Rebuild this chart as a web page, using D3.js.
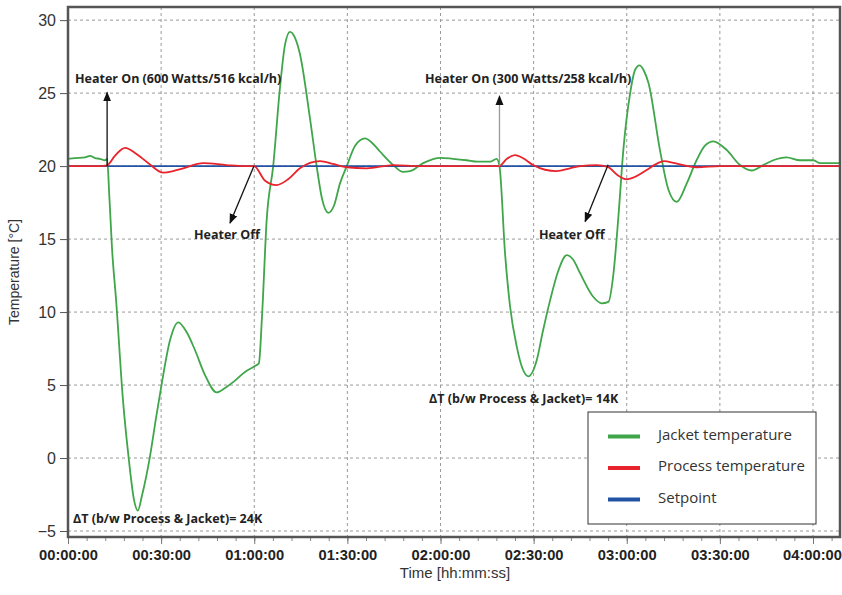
<!DOCTYPE html>
<html>
<head>
<meta charset="utf-8">
<script src="https://cdn.jsdelivr.net/npm/d3@7"></script>
<style>
    body { margin: 0; background: #fff; }
    svg { display: block; }
    .grid line { stroke: #9a9a9a; stroke-dasharray: 3,3; stroke-width: 1; }
    .ann { font-family: "Open Sans", sans-serif; font-weight: bold; font-size: 12.5px; fill: #222; }
</style>
</head>
<body>
<div id="chart"></div>
<script>
// time in minutes, temperatures in degC
const jacketTime = [0, 2.3, 5.5, 7.1, 8.7, 10.3, 11.9, 12.6, 13.3, 14.2, 15.5, 17.7, 19.6, 21.3, 22.5, 23.8, 26.4, 28.4, 30.2,
    32.9, 35.5, 38.3, 40.9, 44.1, 47.9, 50.6, 53.8, 57.0, 60.2, 61.5, 62.5, 64.0, 66.1, 68.3, 69.9, 71.5, 73.1, 74.7, 78.0,
    80.1, 81.8, 83.9, 85.7, 87.6, 89.8, 92.5, 95.7, 97.9, 100.5, 104.8, 107.9, 110.2, 114.4, 120, 124, 128.4, 132, 136, 138.1,
    139, 140.8, 142.4, 144.6, 146.3, 148.3, 151, 153, 155.3, 157.9, 160.7, 162.7, 165, 169.2, 171.9, 174.1, 175.7, 177.3, 178.9, 181.1,
    182.7, 184.1, 185.6, 187, 190.7, 193.4, 196.1, 199.3, 202.5, 205.2, 207.9, 212.2, 216.5, 220.3, 224, 227.2, 231.5, 235.8, 240.1, 242.3, 248.7];
const jacketTemp = [20.5, 20.55, 20.6, 20.7, 20.55, 20.5, 20.4, 20.5, 18.0, 14.3, 10.8, 4.0, -0.1, -2.9, -3.6, -2.6, 0.1, 2.8, 5.1,
    8.1, 9.3, 8.6, 7.4, 5.7, 4.5, 4.8, 5.3, 5.9, 6.3, 6.5, 9.7, 16.3, 20, 25.4, 28.3, 29.2, 28.8, 27.7, 23.2,
    20, 17.8, 16.8, 17.3, 18.8, 20, 21.4, 21.9, 21.6, 21.0, 20.07, 19.6, 19.65, 20.2, 20.57, 20.5, 20.4, 20.3, 20.3, 20.5,
    20, 14, 10.4, 7.6, 6.2, 5.6, 6.7, 8.7, 10.8, 12.8, 13.9, 13.6, 12.65, 11.05, 10.6, 10.7, 12.6, 16.5, 21.1, 25,
    26.6, 26.9, 26.5, 25.7, 21.1, 18.4, 17.55, 18.8, 20.4, 21.4, 21.7, 21.1, 20.07, 19.7, 20.07, 20.4, 20.6, 20.4, 20.4, 20.2, 20.2];

const processTime = [0, 10.3, 12.6, 15.1, 18.4, 21.6, 25.9, 30.7, 33.8, 37.1, 43.6, 51.1, 57, 59.9, 63.5, 67.2, 70.9, 74.7, 81.2, 85.4,
    89.8, 96.2, 104.8, 113.4, 138.9, 141.4, 144.0, 146.9, 149.8, 153.7, 157.4, 161.7, 165, 170.3, 173.9, 176.9, 180, 183, 186.4, 189.1,
    192, 195.5, 202.5, 210, 248.7];
const processTemp = [20, 20, 20.05, 20.7, 21.25, 20.9, 20.2, 19.55, 19.65, 19.85, 20.2, 20.07, 20, 20, 19.0, 18.7, 19.1, 19.85, 20.34, 20.15,
    19.92, 19.85, 20.07, 20.0, 20, 20.5, 20.75, 20.5, 20.07, 19.75, 19.66, 19.85, 20, 20.07, 19.95, 19.4, 19.1, 19.3, 19.73, 20.1,
    20.34, 20.2, 19.92, 20, 20];

const setpointTime = [0, 248.7];
const setpointTemp = [20, 20];

const xTicks = [0, 30, 60, 90, 120, 150, 180, 210, 240];
const yTicks = [-5, 0, 5, 10, 15, 20, 25, 30];

const seriesNames = ['Jacket temperature', 'Process temperature', 'Setpoint'];
const seriesColors = ['#3fa64a', '#e8232b', '#2152a3'];

// annotations in data coordinates (minutes, degC)
const labels = [
    { text: 'Heater On (600 Watts/516 kcal/h)', t: 2.25, v: 25.7 },
    { text: 'Heater Off', t: 40.6, v: 15.0 },
    { text: 'Heater On (300 Watts/258 kcal/h)', t: 115, v: 25.7 },
    { text: 'Heater Off', t: 151.7, v: 15.0 },
    { text: '\u0394T (b/w Process & Jacket)= 24K', t: 1.6, v: -4.45 },
    { text: '\u0394T (b/w Process & Jacket)= 14K', t: 116.3, v: 3.77 }
];
const arrows = [
    { t0: 12.6, v0: 20, t1: 12.6, v1: 25.05, color: '#111' },
    { t0: 59.9, v0: 20, t1: 52.2, v1: 16.1, color: '#111' },
    { t0: 139, v0: 20, t1: 139, v1: 24.8, color: '#999' },
    { t0: 174, v0: 20.1, t1: 166.6, v1: 16.2, color: '#111' }
];

const width = 842, height = 595;
const mLeft = 68, mRight = 840, mTop = 7, mBottom = 537;

const svg = d3.select('#chart').append('svg')
    .attr('width', width)
    .attr('height', height);

const x = d3.scaleLinear().domain([0, 248.7]).range([mLeft, mRight]);
const y = d3.scaleLinear().domain([-5.41, 30.9]).range([mBottom, mTop]);

const pad = n => String(n).padStart(2, '0');
const fmtTime = m => pad(Math.floor(m / 60)) + ':' + pad(m % 60) + ':00';

// grid
svg.append('g').attr('class', 'grid')
    .selectAll('line').data(xTicks.filter(d => d > 0)).join('line')
    .attr('x1', d => x(d)).attr('x2', d => x(d))
    .attr('y1', mTop).attr('y2', mBottom);
svg.append('g').attr('class', 'grid')
    .selectAll('line').data(yTicks).join('line')
    .attr('x1', mLeft).attr('x2', mRight)
    .attr('y1', d => y(d)).attr('y2', d => y(d));

// axes
const xMinor = d3.range(0, 249, 6);
svg.append('g')
    .attr('transform', `translate(0,${mBottom})`)
    .call(d3.axisBottom(x).tickValues(xMinor).tickSize(4).tickFormat(''))
    .call(g => g.select('.domain').remove())
    .call(g => g.selectAll('line').attr('stroke', '#888'));

const xAxis = svg.append('g')
    .attr('transform', `translate(0,${mBottom})`)
    .call(d3.axisBottom(x).tickValues(xTicks).tickSize(7).tickPadding(6).tickFormat(fmtTime));
xAxis.select('.domain').remove();
xAxis.selectAll('line').attr('stroke', '#777');
xAxis.selectAll('text')
    .attr('font-family', '"Liberation Sans", Arial, sans-serif')
    .attr('font-size', 14.7)
    .attr('font-weight', 'bold')
    .attr('fill', '#222')
    .attr('dx', d => d === 240 ? -1 : 0);

const yAxis = svg.append('g')
    .attr('transform', `translate(${mLeft},0)`)
    .call(d3.axisLeft(y).tickValues(yTicks).tickSize(8).tickPadding(4));
yAxis.select('.domain').remove();
yAxis.selectAll('line').attr('stroke', '#555');
yAxis.selectAll('text')
    .attr('font-family', '"Liberation Sans", Arial, sans-serif')
    .attr('font-size', 16)
    .attr('fill', '#333');

// lines
const line = d3.line()
    .x(d => x(d[0]))
    .y(d => y(d[1]))
    .curve(d3.curveMonotoneX);

const series = [
    d3.zip(jacketTime, jacketTemp),
    d3.zip(setpointTime, setpointTemp),
    d3.zip(processTime, processTemp)
];
const seriesColor = [seriesColors[0], seriesColors[2], seriesColors[1]];

svg.append('g').selectAll('path').data(series).join('path')
    .attr('d', line)
    .attr('fill', 'none')
    .attr('stroke', (d, i) => seriesColor[i])
    .attr('stroke-width', 1.8);

// frame
svg.append('rect')
    .attr('x', mLeft).attr('y', mTop)
    .attr('width', mRight - mLeft).attr('height', mBottom - mTop)
    .attr('fill', 'none')
    .attr('stroke', '#555')
    .attr('stroke-width', 2.5);

// arrows
const defs = svg.append('defs');
defs.append('marker')
    .attr('id', 'head')
    .attr('viewBox', '0 0 10 10')
    .attr('refX', 9).attr('refY', 5)
    .attr('markerWidth', 10).attr('markerHeight', 10)
    .attr('markerUnits', 'userSpaceOnUse')
    .attr('orient', 'auto')
    .append('path').attr('d', 'M0,1 L10,5 L0,9 Z').attr('fill', '#111');

svg.append('g').selectAll('line').data(arrows).join('line')
    .attr('x1', d => x(d.t0)).attr('y1', d => y(d.v0))
    .attr('x2', d => x(d.t1)).attr('y2', d => y(d.v1))
    .attr('stroke', d => d.color)
    .attr('stroke-width', 1.3)
    .attr('marker-end', 'url(#head)');

svg.append('g').selectAll('text').data(labels).join('text')
    .attr('class', 'ann')
    .attr('x', d => x(d.t))
    .attr('y', d => y(d.v))
    .text(d => d.text);

// axis titles
svg.append('text')
    .attr('transform', `translate(19,${(mTop + mBottom) / 2}) rotate(-90)`)
    .attr('text-anchor', 'middle')
    .attr('font-family', '"Liberation Sans", Arial, sans-serif')
    .attr('font-size', 14)
    .attr('fill', '#333')
    .text('Temperature [°C]');

svg.append('text')
    .attr('x', 455).attr('y', 578)
    .attr('text-anchor', 'middle')
    .attr('font-family', '"Liberation Sans", Arial, sans-serif')
    .attr('font-size', 15)
    .attr('fill', '#333')
    .text('Time [hh:mm:ss]');

// legend
const legend = svg.append('g').attr('transform', 'translate(588,412)');
legend.append('rect')
    .attr('width', 228).attr('height', 112)
    .attr('fill', '#fff').attr('stroke', '#333').attr('stroke-width', 1);
const item = legend.selectAll('g').data(seriesNames).join('g')
    .attr('transform', (d, i) => `translate(0,${24.5 + i * 31.5})`);
item.append('line')
    .attr('x1', 20).attr('x2', 52)
    .attr('stroke', (d, i) => seriesColors[i])
    .attr('stroke-width', 4);
item.append('text')
    .attr('x', 70).attr('dy', '0.2em')
    .attr('font-family', '"Open Sans", sans-serif')
    .attr('font-size', 15)
    .attr('fill', '#333')
    .text(d => d);
</script>
</body>
</html>
